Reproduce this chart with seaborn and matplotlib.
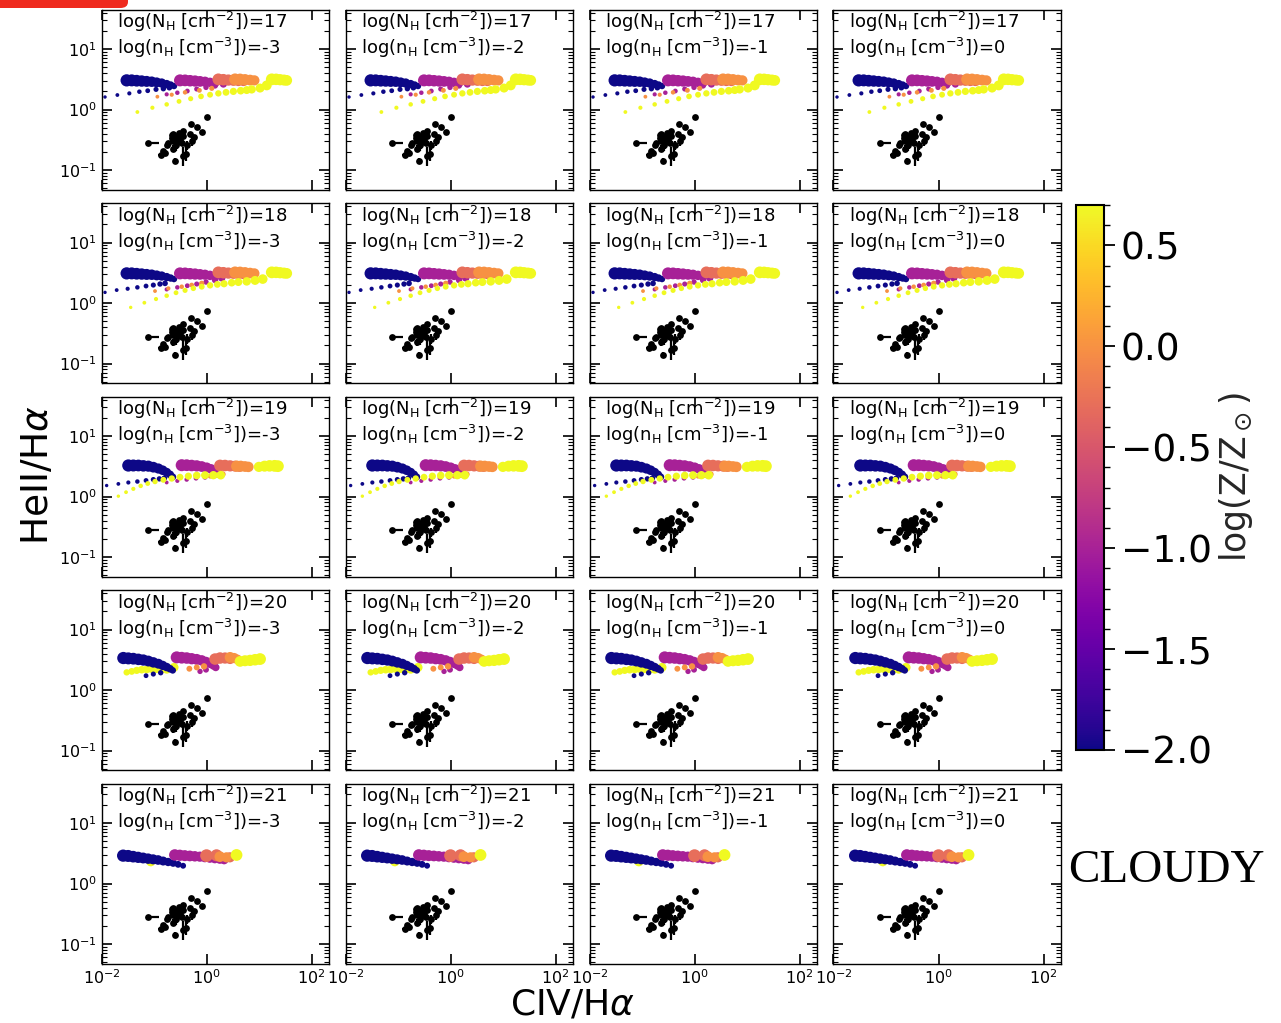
import numpy as np
import pandas as pd
import matplotlib
matplotlib.use("Agg")
import matplotlib.pyplot as plt
import seaborn as sns
from matplotlib.colors import Normalize
from matplotlib.cm import ScalarMappable
from matplotlib.ticker import FixedLocator, NullLocator, LogLocator, MultipleLocator
from matplotlib.patches import FancyBboxPatch

# ---------------- data (log10 values) ----------------
NH_VALUES = [17, 18, 19, 20, 21]          # rows
NDEN_VALUES = [-3, -2, -1, 0]             # columns
Z_MIN, Z_MAX = -2.0, 0.7
CBAR_TICKS = [-2.0, -1.5, -1.0, -0.5, 0.0, 0.5]

# model tracks per row: metallicity, log x (CIV/Ha), log y (HeII/Ha), relative marker size
R1_Z = [-2, -2, -1, -1, -0.3, 0, 0, 0.7, 0.7]
R1_LX = [[-1.521, -1.425, -1.330, -1.235, -1.140, -1.044, -0.949, -0.854, -0.759, -0.683, -0.619],
         [-1.933, -1.698, -1.470, -1.279, -1.120, -0.962, -0.822, -0.708],
         [-0.505, -0.409, -0.314, -0.219, -0.124, -0.029, 0.067, 0.162],
         [-0.759, -0.556, -0.366, -0.187, -0.010, 0.162, 0.321],
         [0.225, 0.321, 0.416, 0.511, 0.606, 0.702],
         [0.543, 0.638, 0.733, 0.829, 0.911],
         [-0.936, -0.663, -0.409, -0.136, 0.099],
         [1.242, 1.324, 1.400, 1.476, 1.527],
         [-1.317, -1.031, -0.759, -0.524, -0.302, -0.105, 0.067, 0.225, 0.371, 0.511, 0.651, 0.765, 0.860, 1.019, 1.146]]
R1_LY = [[0.482, 0.482, 0.476, 0.471, 0.465, 0.460, 0.449, 0.438, 0.421, 0.405, 0.388],
         [0.207, 0.240, 0.267, 0.295, 0.311, 0.333, 0.344, 0.361],
         [0.482, 0.482, 0.476, 0.471, 0.465, 0.460, 0.449, 0.438],
         [0.251, 0.278, 0.306, 0.339, 0.366, 0.394, 0.421],
         [0.499, 0.493, 0.487, 0.482, 0.476, 0.471],
         [0.499, 0.499, 0.493, 0.487, 0.482],
         [0.212, 0.245, 0.284, 0.317, 0.350],
         [0.499, 0.499, 0.493, 0.487, 0.482],
         [-0.041, 0.030, 0.085, 0.135, 0.179, 0.217, 0.245, 0.267, 0.284, 0.300, 0.311, 0.322, 0.333, 0.355, 0.399]]
R1_S = [[52, 50, 48, 45, 42, 38, 34, 30, 24, 19, 14],
        [4, 5, 6, 7, 8, 9, 10, 11],
        [50, 48, 46, 44, 40, 36, 31, 26],
        [6, 7, 8, 9, 10, 12, 18],
        [48, 46, 44, 42, 40, 36],
        [48, 46, 44, 40, 36],
        [5, 6, 7, 8, 9],
        [48, 46, 44, 42, 40],
        [5, 6, 7, 8, 9, 11, 12, 14, 16, 18, 20, 22, 24, 28, 34]]

R2_Z = [-2, -2, -1, -1, -0.3, 0, 0, 0.7, 0.7]
R2_LX = [[-1.521, -1.425, -1.330, -1.235, -1.140, -1.044, -0.949, -0.854, -0.759, -0.683, -0.619],
         [-1.933, -1.711, -1.502, -1.317, -1.152, -1.013, -0.886, -0.790],
         [-0.505, -0.409, -0.314, -0.219, -0.124, -0.029, 0.067, 0.162],
         [-0.759, -0.556, -0.366, -0.187, -0.010, 0.162, 0.289],
         [0.225, 0.321, 0.416, 0.511, 0.606, 0.702],
         [0.543, 0.638, 0.733, 0.829, 0.911],
         [-0.981, -0.727, -0.473, -0.283, -0.092],
         [1.242, 1.324, 1.400, 1.476, 1.527],
         [-1.444, -1.184, -0.962, -0.759, -0.581, -0.409, -0.251, -0.092, 0.067, 0.206, 0.333, 0.479, 0.606, 0.765, 0.924, 1.070]]
R2_LY = [[0.490, 0.490, 0.484, 0.479, 0.473, 0.468, 0.457, 0.446, 0.429, 0.413, 0.396],
         [0.176, 0.214, 0.236, 0.259, 0.281, 0.297, 0.314, 0.325],
         [0.490, 0.490, 0.484, 0.479, 0.473, 0.468, 0.457, 0.446],
         [0.225, 0.259, 0.286, 0.314, 0.347, 0.380, 0.418],
         [0.507, 0.501, 0.495, 0.490, 0.484, 0.479],
         [0.507, 0.507, 0.501, 0.495, 0.490],
         [0.198, 0.242, 0.270, 0.297, 0.325],
         [0.507, 0.507, 0.501, 0.495, 0.490],
         [-0.072, 0.005, 0.066, 0.121, 0.170, 0.209, 0.242, 0.270, 0.292, 0.308, 0.319, 0.336, 0.347, 0.358, 0.374, 0.396]]
R2_S = [[52, 50, 48, 45, 42, 38, 34, 30, 24, 19, 14],
        [4, 5, 6, 7, 8, 9, 10, 11],
        [50, 48, 46, 44, 40, 36, 31, 26],
        [6, 7, 8, 9, 10, 14, 20],
        [48, 46, 44, 42, 40, 36],
        [48, 46, 44, 40, 36],
        [5, 6, 7, 8, 10],
        [48, 46, 44, 42, 40],
        [4, 5, 6, 7, 8, 9, 10, 12, 14, 16, 18, 20, 22, 25, 28, 32]]

R3_Z = [-2, -2, -1, -1, -0.3, 0, 0, 0.7, 0.7]
R3_LX = [[-1.489, -1.394, -1.298, -1.203, -1.108, -1.013, -0.917, -0.835, -0.759, -0.695, -0.644],
         [-1.902, -1.679, -1.489, -1.317, -1.152, -1.013, -0.898, -0.803],
         [-0.473, -0.378, -0.283, -0.187, -0.092, 0.003, 0.086, 0.149, 0.206],
         [-0.759, -0.556, -0.378, -0.200, -0.029, 0.130],
         [0.257, 0.352, 0.448, 0.543, 0.626],
         [0.575, 0.651, 0.733, 0.797],
         [0.067, 0.194, 0.308],
         [0.997, 1.105, 1.200, 1.295, 1.359],
         [-1.679, -1.533, -1.394, -1.254, -1.120, -0.981, -0.822, -0.663, -0.505, -0.346, -0.187, -0.029, 0.130, 0.270]]
R3_LY = [[0.513, 0.513, 0.513, 0.507, 0.502, 0.485, 0.463, 0.435, 0.402, 0.364, 0.325],
         [0.182, 0.209, 0.232, 0.248, 0.265, 0.281, 0.292, 0.303],
         [0.518, 0.518, 0.513, 0.507, 0.496, 0.479, 0.457, 0.424, 0.380],
         [0.232, 0.259, 0.281, 0.303, 0.320, 0.336],
         [0.513, 0.513, 0.507, 0.502, 0.496],
         [0.502, 0.502, 0.496, 0.490],
         [0.336, 0.353, 0.369],
         [0.490, 0.502, 0.507, 0.507, 0.502],
         [0.006, 0.072, 0.127, 0.176, 0.215, 0.248, 0.276, 0.298, 0.320, 0.336, 0.347, 0.353, 0.353, 0.353]]
R3_S = [[52, 50, 48, 46, 43, 40, 36, 32, 27, 22, 17],
        [4, 5, 6, 7, 8, 9, 10, 11],
        [50, 48, 46, 44, 40, 36, 32, 26, 20],
        [5, 6, 7, 8, 9, 10],
        [48, 46, 44, 42, 40],
        [44, 42, 40, 38],
        [8, 10, 12],
        [36, 42, 46, 48, 48],
        [4, 5, 6, 7, 8, 10, 12, 14, 16, 18, 20, 22, 24, 26]]

R4_Z = [0.7, -2, -2, -1, -1, 0, -0.3, 0, 0.7]
R4_LX = [[-1.521, -1.425, -1.330, -1.235, -1.140, -1.044, -0.949, -0.854, -0.759, -0.619],
         [-1.584, -1.489, -1.394, -1.298, -1.203, -1.108, -1.013, -0.917, -0.835, -0.759, -0.695, -0.644],
         [-1.152, -1.013, -0.873],
         [-0.568, -0.473, -0.378, -0.283, -0.187, -0.092, -0.010, 0.067, 0.130, 0.175],
         [-0.124, -0.010],
         [-0.327, -0.187, -0.048],
         [0.162, 0.257, 0.352, 0.448],
         [0.448, 0.524, 0.587],
         [0.638, 0.733, 0.829, 0.924, 1.019]]
R4_LY = [[0.292, 0.308, 0.325, 0.336, 0.341, 0.347, 0.347, 0.341, 0.336, 0.374],
         [0.529, 0.523, 0.518, 0.507, 0.496, 0.479, 0.457, 0.435, 0.407, 0.380, 0.352, 0.325],
         [0.237, 0.264, 0.286],
         [0.540, 0.534, 0.529, 0.518, 0.507, 0.490, 0.468, 0.440, 0.407, 0.374],
         [0.308, 0.336],
         [0.352, 0.374, 0.391],
         [0.512, 0.529, 0.529, 0.518],
         [0.540, 0.529, 0.507],
         [0.473, 0.484, 0.490, 0.501, 0.512]]
R4_S = [[14, 16, 18, 20, 21, 22, 22, 22, 22, 28],
        [52, 50, 48, 46, 44, 41, 38, 34, 30, 25, 20, 15],
        [8, 9, 10],
        [50, 48, 46, 44, 41, 38, 34, 30, 25, 20],
        [10, 12],
        [12, 12, 14],
        [46, 46, 44, 40],
        [40, 36, 32],
        [40, 42, 44, 46, 48]]

R5_Z = [0.7, -2, -1, -0.3, 0, 0.7]
R5_LX = [[-1.061],
         [-1.588, -1.493, -1.397, -1.302, -1.207, -1.112, -1.017, -0.922, -0.826, -0.731, -0.636, -0.541, -0.446],
         [-0.604, -0.509, -0.414, -0.318, -0.223, -0.128, -0.033, 0.062, 0.157, 0.253, 0.335],
         [0.000, 0.190, 0.444],
         [0.254, 0.380],
         [0.571]]
R5_LY = [[0.361],
         [0.461, 0.456, 0.444, 0.433, 0.422, 0.411, 0.400, 0.389, 0.372, 0.356, 0.339, 0.317, 0.294],
         [0.472, 0.467, 0.461, 0.456, 0.450, 0.444, 0.433, 0.422, 0.411, 0.400, 0.389],
         [0.461, 0.467, 0.433],
         [0.444, 0.433],
         [0.472]]
R5_S = [[30],
        [52, 50, 47, 44, 41, 38, 35, 32, 28, 24, 20, 16, 12],
        [46, 44, 42, 40, 38, 36, 34, 32, 30, 28, 26],
        [56, 50, 36],
        [40, 36],
        [48]]

ROWS_Z = [R1_Z, R2_Z, R3_Z, R4_Z, R5_Z]
ROWS_LX = [R1_LX, R2_LX, R3_LX, R4_LX, R5_LX]
ROWS_LY = [R1_LY, R2_LY, R3_LY, R4_LY, R5_LY]
ROWS_S = [R1_S, R2_S, R3_S, R4_S, R5_S]

# observed objects (black points), log10 values
OBS_LX = [0.004, -0.301, -0.175, -0.091, -0.442, -0.314, -0.238, -0.282, -0.377, -1.109,
          -0.663, -0.600, -0.537, -0.505, -0.632, -0.556, -0.473, -0.728, -0.581, -0.644,
          -0.758, -0.822, -0.872, -0.790, -0.600, -0.453, -0.390, -0.663, -0.518, -0.632, -0.442]
OBS_LY = [-0.124, -0.240, -0.295, -0.372, -0.350, -0.405, -0.460, -0.526, -0.592, -0.554,
          -0.427, -0.460, -0.443, -0.499, -0.526, -0.537, -0.554, -0.554, -0.592, -0.648,
          -0.582, -0.681, -0.747, -0.719, -0.856, -0.774, -0.736, -0.471, -0.388, -0.405, -0.443]
OBS_DY = [0, 0, 0, 0, 0, 0, 0, 0.08, 0.08, 0,
          0, 0, 0, 0, 0, 0.12, 0, 0, 0.10, 0.06,
          0, 0, 0, 0, 0.05, 0.16, 0.12, 0, 0, 0, 0]
OBS_DX_LO = [0, 0, 0, 0, 0, 0, 0, 0, 0, 0,
             0, 0, 0, 0, 0, 0, 0, 0, 0, 0,
             0, 0.05, 0.06, 0, 0, 0, 0, 0, 0, 0, 0]
OBS_DX_HI = [0, 0, 0, 0, 0, 0, 0, 0, 0, 0.20,
             0, 0, 0, 0, 0, 0, 0, 0, 0, 0,
             0, 0.05, 0.06, 0, 0, 0, 0, 0, 0, 0, 0]

# ---------------- style ----------------
sns.set_theme(style="ticks")
plt.rcParams.update({
    "font.family": ["DejaVu Sans"],
    "mathtext.fontset": "dejavusans",
    "axes.edgecolor": "black",
    "axes.linewidth": 1.0,
    "xtick.color": "black",
    "ytick.color": "black",
    "text.color": "black",
    "axes.facecolor": "white",
    "figure.facecolor": "white",
})

W, H = 1281, 1023
fig = plt.figure(figsize=(W / 100, H / 100), dpi=100)

COL_LEFT = [101.5, 345.5, 589.5, 833.5]
ROW_TOP = [9.5, 203.0, 396.5, 590.0, 783.5]
PW, PH = 227, 180
XLIM = (0.01, 210)
YLIM = (0.0477, 45.0)
SIZE_NORM = (0, 60)
SIZE_RANGE = (0, 90)

obs_x = 10 ** np.array(OBS_LX)
obs_y = 10 ** np.array(OBS_LY)
dy = np.array(OBS_DY)
yerr = np.vstack([obs_y - obs_y / 10 ** dy, obs_y * 10 ** dy - obs_y])
xerr = np.vstack([obs_x - obs_x / 10 ** np.array(OBS_DX_LO),
                  obs_x * 10 ** np.array(OBS_DX_HI) - obs_x])

for r in range(5):
    rows = []
    for z, lx, ly, ss in zip(ROWS_Z[r], ROWS_LX[r], ROWS_LY[r], ROWS_S[r]):
        for a, b, s in zip(lx, ly, ss):
            rows.append({"x": 10 ** a, "y": 10 ** b, "Z": z, "s": s})
    df = pd.DataFrame(rows)
    for c in range(4):
        ax = fig.add_axes([COL_LEFT[c] / W, 1 - (ROW_TOP[r] + PH) / H, PW / W, PH / H])
        ax.set_xscale("log")
        ax.set_yscale("log")
        sns.scatterplot(data=df, x="x", y="y", hue="Z", palette="plasma",
                        hue_norm=(Z_MIN, Z_MAX), size="s", sizes=SIZE_RANGE,
                        size_norm=SIZE_NORM, linewidth=0, legend=False, ax=ax,
                        zorder=2)
        ax.errorbar(obs_x, obs_y, xerr=xerr, yerr=yerr, fmt="none", ecolor="black",
                    elinewidth=1.6, capsize=0, zorder=3)
        sns.scatterplot(x=obs_x, y=obs_y, color="black", s=24, linewidth=0,
                        legend=False, ax=ax, zorder=4)
        ax.set_xlim(*XLIM)
        ax.set_ylim(*YLIM)
        ax.set_xlabel("")
        ax.set_ylabel("")
        ax.xaxis.set_major_locator(FixedLocator([1e-2, 1e0, 1e2]))
        ax.xaxis.set_minor_locator(NullLocator())
        ax.yaxis.set_major_locator(LogLocator(base=10))
        ax.yaxis.set_minor_locator(LogLocator(base=10, subs=np.arange(2, 10), numticks=20))
        ax.tick_params(which="both", direction="in", top=True, right=True)
        ax.tick_params(which="major", length=7, width=1.2, labelsize=11.5)
        ax.tick_params(which="minor", length=3.5, width=0.8)
        if c > 0:
            ax.tick_params(labelleft=False)
        if r < 4:
            ax.tick_params(labelbottom=False)
        for sp in ax.spines.values():
            sp.set_color("black")
            sp.set_linewidth(1.0)
        ax.text(0.068, 0.93, r"log(N$_{\rm H}$ [cm$^{-2}$])=%d" % NH_VALUES[r],
                transform=ax.transAxes, fontsize=13, va="center", ha="left")
        ax.text(0.068, 0.786, r"log(n$_{\rm H}$ [cm$^{-3}$])=%d" % NDEN_VALUES[c],
                transform=ax.transAxes, fontsize=13, va="center", ha="left")

# colorbar
cax = fig.add_axes([1076 / W, 1 - 750 / H, 28 / W, 545 / H])
sm = ScalarMappable(norm=Normalize(Z_MIN, Z_MAX), cmap="plasma")
cb = fig.colorbar(sm, cax=cax)
cb.set_ticks(CBAR_TICKS)
cb.ax.yaxis.set_minor_locator(MultipleLocator(0.1))
cb.ax.tick_params(which="major", length=8, width=1.3, labelsize=27, pad=4, direction="out")
cb.ax.tick_params(which="minor", length=4, width=1.0, direction="out")
cb.set_label(r"log(Z/Z$_\odot$)", fontsize=25)
cb.outline.set_linewidth(1.5)
cb.outline.set_edgecolor("black")

# figure labels
fig.text(38 / W, 1 - 475 / H, r"HeII/H$\alpha$", rotation=90, fontsize=27,
         ha="center", va="center")
fig.text(572 / W, 1 - 1004 / H, r"CIV/H$\alpha$", fontsize=26, ha="center", va="center")
fig.text(1068 / W, 1 - 871 / H, "CLOUDY", family="Liberation Serif", fontsize=34,
         ha="left", va="center")

# red marker strip at top-left
mark = FancyBboxPatch((-0.02, 1 - 8 / H), 0.02 + 128 / W, 0.02 + 8 / H,
                      boxstyle="round,pad=0,rounding_size=0.006",
                      transform=fig.transFigure, facecolor="#ef2a1e", edgecolor="none")
fig.patches.append(mark)

fig.savefig("out.png", dpi=100)
